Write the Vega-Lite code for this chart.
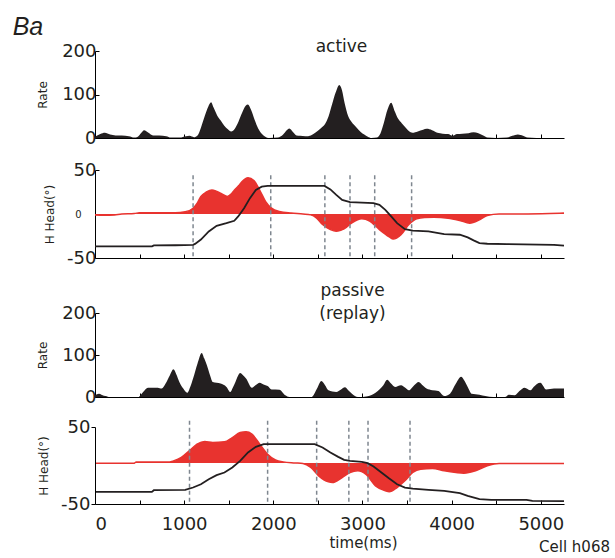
{
  "$schema": "https://vega.github.io/schema/vega-lite/v6.json",
  "padding": {"left": 12, "top": 15, "right": 5, "bottom": 3},
  "background": "white",
  "title": {"text": "Ba", "anchor": "start", "frame": "bounds", "font": "Liberation Sans", "fontSize": 25, "fontStyle": "italic", "fontWeight": "normal", "color": "#231f20", "dx": -24, "offset": -2},
  "config": {
    "view": {"stroke": null},
    "font": "DejaVu Sans",
    "axis": {"grid": false, "domainColor": "#000", "tickColor": "#000", "domainWidth": 1, "tickWidth": 1, "tickSize": -4, "labelFont": "DejaVu Sans", "labelFontSize": 18, "labelColor": "#231f20", "titleFont": "DejaVu Sans", "titleFontWeight": "normal", "titleFontSize": 12, "titleColor": "#231f20", "labelPadding": 3},
    "title": {"font": "DejaVu Sans", "fontWeight": "normal", "fontSize": 17, "color": "#231f20"}
  },
  "datasets": {
    "aRate": [{"t":0,"r":3},{"t":60,"r":9},{"t":110,"r":12},{"t":170,"r":8},{"t":230,"r":6},{"t":300,"r":6},{"t":380,"r":4},{"t":440,"r":1},{"t":480,"r":3},{"t":520,"r":12},{"t":550,"r":18},{"t":600,"r":12},{"t":650,"r":6},{"t":720,"r":6},{"t":800,"r":4},{"t":850,"r":1},{"t":950,"r":1},{"t":1020,"r":4},{"t":1060,"r":5},{"t":1110,"r":2},{"t":1150,"r":6},{"t":1190,"r":25},{"t":1230,"r":50},{"t":1270,"r":72},{"t":1302,"r":82},{"t":1330,"r":70},{"t":1370,"r":52},{"t":1410,"r":40},{"t":1450,"r":28},{"t":1490,"r":20},{"t":1527,"r":15},{"t":1570,"r":22},{"t":1610,"r":38},{"t":1650,"r":58},{"t":1690,"r":74},{"t":1715,"r":77},{"t":1750,"r":65},{"t":1790,"r":42},{"t":1830,"r":22},{"t":1870,"r":10},{"t":1910,"r":3},{"t":1950,"r":0},{"t":2050,"r":1},{"t":2110,"r":8},{"t":2150,"r":18},{"t":2180,"r":22},{"t":2220,"r":14},{"t":2260,"r":6},{"t":2300,"r":5},{"t":2360,"r":4},{"t":2420,"r":6},{"t":2470,"r":12},{"t":2530,"r":22},{"t":2580,"r":32},{"t":2620,"r":50},{"t":2660,"r":78},{"t":2700,"r":105},{"t":2740,"r":122},{"t":2770,"r":110},{"t":2800,"r":80},{"t":2840,"r":50},{"t":2880,"r":36},{"t":2930,"r":25},{"t":2980,"r":14},{"t":3020,"r":8},{"t":3060,"r":3},{"t":3100,"r":0},{"t":3160,"r":1},{"t":3200,"r":10},{"t":3240,"r":35},{"t":3280,"r":65},{"t":3322,"r":81},{"t":3360,"r":62},{"t":3400,"r":44},{"t":3440,"r":34},{"t":3480,"r":25},{"t":3520,"r":16},{"t":3560,"r":12},{"t":3620,"r":15},{"t":3680,"r":19},{"t":3720,"r":21},{"t":3780,"r":18},{"t":3840,"r":12},{"t":3900,"r":10},{"t":3960,"r":9},{"t":4010,"r":5},{"t":4060,"r":9},{"t":4120,"r":10},{"t":4190,"r":11},{"t":4246,"r":13},{"t":4300,"r":11},{"t":4360,"r":5},{"t":4400,"r":1},{"t":4500,"r":0},{"t":4620,"r":1},{"t":4680,"r":5},{"t":4743,"r":8},{"t":4800,"r":5},{"t":4850,"r":1},{"t":4950,"r":0},{"t":5100,"r":0},{"t":5260,"r":0}],
    "aVel": [{"t":0,"v":-1},{"t":100,"v":-1.5},{"t":220,"v":-1},{"t":300,"v":0},{"t":440,"v":0.5},{"t":500,"v":1.5},{"t":700,"v":1.5},{"t":900,"v":1.5},{"t":1012,"v":2.5},{"t":1100,"v":6.6},{"t":1150,"v":13},{"t":1188,"v":20},{"t":1250,"v":25},{"t":1311,"v":27.4},{"t":1360,"v":26},{"t":1408,"v":23.6},{"t":1483,"v":20},{"t":1530,"v":23},{"t":1562,"v":27},{"t":1610,"v":32},{"t":1650,"v":37},{"t":1716,"v":41.3},{"t":1782,"v":38},{"t":1848,"v":27},{"t":1914,"v":14},{"t":1980,"v":6.6},{"t":2068,"v":2.8},{"t":2200,"v":1},{"t":2332,"v":0},{"t":2420,"v":-1},{"t":2486,"v":-4.7},{"t":2552,"v":-12},{"t":2640,"v":-17.7},{"t":2706,"v":-19.6},{"t":2794,"v":-17},{"t":2882,"v":-10},{"t":2992,"v":-5.5},{"t":3080,"v":-8},{"t":3190,"v":-17.7},{"t":3300,"v":-26},{"t":3344,"v":-28.5},{"t":3432,"v":-23.5},{"t":3520,"v":-12},{"t":3608,"v":-5.5},{"t":3696,"v":-4},{"t":3800,"v":-3.8},{"t":3960,"v":-4.7},{"t":4092,"v":-7.4},{"t":4202,"v":-10.4},{"t":4312,"v":-6.6},{"t":4400,"v":-1.7},{"t":4532,"v":0},{"t":4800,"v":0},{"t":5100,"v":0.5},{"t":5260,"v":1}],
    "aPos": [{"t":0,"v":-36.8},{"t":640,"v":-36.8},{"t":660,"v":-35.7},{"t":900,"v":-35.5},{"t":1100,"v":-35},{"t":1122,"v":-34},{"t":1188,"v":-29},{"t":1276,"v":-19.8},{"t":1364,"v":-13.4},{"t":1474,"v":-10.4},{"t":1562,"v":-7.7},{"t":1606,"v":-2.8},{"t":1672,"v":6.6},{"t":1738,"v":18},{"t":1804,"v":27.4},{"t":1870,"v":31},{"t":1936,"v":31.9},{"t":2574,"v":31.9},{"t":2640,"v":28},{"t":2706,"v":21.7},{"t":2772,"v":16},{"t":2860,"v":13.4},{"t":3124,"v":12.3},{"t":3190,"v":10.4},{"t":3256,"v":4.7},{"t":3322,"v":-2.8},{"t":3388,"v":-10.4},{"t":3476,"v":-17.2},{"t":3564,"v":-19},{"t":3740,"v":-19.8},{"t":3916,"v":-22.8},{"t":4092,"v":-23.6},{"t":4180,"v":-26.6},{"t":4246,"v":-30},{"t":4312,"v":-33},{"t":4400,"v":-33.8},{"t":4620,"v":-34.2},{"t":5148,"v":-35},{"t":5260,"v":-36}],
    "aEv": [{"t":1100},{"t":1971},{"t":2578},{"t":2860},{"t":3137},{"t":3551}],
    "pRate": [{"t":0,"r":4},{"t":44,"r":8},{"t":100,"r":3},{"t":132,"r":2},{"t":154,"r":0},{"t":484,"r":0},{"t":540,"r":12},{"t":594,"r":22},{"t":704,"r":22},{"t":748,"r":20},{"t":792,"r":32},{"t":840,"r":52},{"t":880,"r":66},{"t":910,"r":55},{"t":946,"r":36},{"t":990,"r":20},{"t":1034,"r":10},{"t":1070,"r":25},{"t":1100,"r":44},{"t":1150,"r":80},{"t":1197,"r":105},{"t":1225,"r":92},{"t":1254,"r":76},{"t":1290,"r":52},{"t":1320,"r":36},{"t":1408,"r":32},{"t":1474,"r":24},{"t":1518,"r":12},{"t":1545,"r":22},{"t":1575,"r":36},{"t":1628,"r":57},{"t":1660,"r":52},{"t":1694,"r":44},{"t":1760,"r":22},{"t":1800,"r":28},{"t":1848,"r":34},{"t":1890,"r":30},{"t":1936,"r":26},{"t":1980,"r":18},{"t":2068,"r":17.5},{"t":2134,"r":4},{"t":2178,"r":0},{"t":2420,"r":0},{"t":2442,"r":2},{"t":2490,"r":20},{"t":2539,"r":38},{"t":2580,"r":28},{"t":2618,"r":16},{"t":2706,"r":12},{"t":2760,"r":18},{"t":2803,"r":23},{"t":2840,"r":16},{"t":2882,"r":8},{"t":2948,"r":0},{"t":3058,"r":2},{"t":3146,"r":10},{"t":3234,"r":28},{"t":3278,"r":41},{"t":3320,"r":32},{"t":3366,"r":24},{"t":3432,"r":28},{"t":3480,"r":22},{"t":3520,"r":16},{"t":3580,"r":28},{"t":3630,"r":36},{"t":3680,"r":27},{"t":3718,"r":20},{"t":3784,"r":16},{"t":3850,"r":14},{"t":3916,"r":2.4},{"t":3982,"r":8},{"t":4048,"r":32},{"t":4105,"r":48},{"t":4140,"r":40},{"t":4180,"r":24},{"t":4224,"r":8},{"t":4312,"r":5.6},{"t":4378,"r":2.4},{"t":4466,"r":0},{"t":4598,"r":0},{"t":4642,"r":5.6},{"t":4708,"r":4},{"t":4760,"r":14},{"t":4818,"r":22},{"t":4884,"r":16},{"t":4919,"r":24},{"t":4994,"r":34},{"t":5060,"r":18},{"t":5148,"r":20},{"t":5260,"r":20}],
    "pVel": [{"t":0,"v":3},{"t":440,"v":3},{"t":462,"v":4.7},{"t":836,"v":4.7},{"t":880,"v":6},{"t":968,"v":10.4},{"t":1056,"v":19},{"t":1144,"v":27.7},{"t":1232,"v":31.2},{"t":1320,"v":29.9},{"t":1452,"v":30.7},{"t":1540,"v":36.3},{"t":1628,"v":42.8},{"t":1694,"v":43.7},{"t":1760,"v":40.7},{"t":1848,"v":27.7},{"t":1936,"v":14.7},{"t":2024,"v":7.3},{"t":2112,"v":4.7},{"t":2244,"v":3.4},{"t":2332,"v":2.6},{"t":2420,"v":-2.6},{"t":2508,"v":-13.4},{"t":2618,"v":-21.2},{"t":2662,"v":-22.1},{"t":2772,"v":-15.6},{"t":2860,"v":-9.1},{"t":2948,"v":-6.9},{"t":3036,"v":-11.3},{"t":3146,"v":-26.4},{"t":3256,"v":-32.9},{"t":3300,"v":-34.2},{"t":3388,"v":-28.6},{"t":3476,"v":-19.9},{"t":3564,"v":-9.1},{"t":3652,"v":-4.8},{"t":3784,"v":-3.9},{"t":3916,"v":-6.9},{"t":4048,"v":-9.1},{"t":4136,"v":-10},{"t":4268,"v":-6.9},{"t":4400,"v":-0.4},{"t":4532,"v":2.6},{"t":5260,"v":2.6}],
    "pPos": [{"t":0,"v":-34.2},{"t":638,"v":-34.2},{"t":660,"v":-32.1},{"t":1012,"v":-31.6},{"t":1100,"v":-28.6},{"t":1188,"v":-24.3},{"t":1276,"v":-17.8},{"t":1364,"v":-12.6},{"t":1452,"v":-9.1},{"t":1540,"v":-2.6},{"t":1628,"v":6},{"t":1716,"v":16.9},{"t":1804,"v":24.2},{"t":1892,"v":27.7},{"t":2464,"v":27.7},{"t":2552,"v":23.4},{"t":2640,"v":16.9},{"t":2728,"v":11.2},{"t":2794,"v":7.3},{"t":2860,"v":6},{"t":2992,"v":4.7},{"t":3058,"v":3},{"t":3124,"v":-1.3},{"t":3212,"v":-9.1},{"t":3300,"v":-16.9},{"t":3388,"v":-24.3},{"t":3476,"v":-28.6},{"t":3564,"v":-29.9},{"t":3740,"v":-31.6},{"t":3916,"v":-32.9},{"t":4092,"v":-35.9},{"t":4180,"v":-39.4},{"t":4312,"v":-43.7},{"t":4444,"v":-44.6},{"t":4840,"v":-44.6},{"t":4906,"v":-45.9},{"t":5260,"v":-46.3}],
    "pEv": [{"t":1060},{"t":1936},{"t":2486},{"t":2847},{"t":3062},{"t":3533}]
  },
  "spacing": 15,
  "vconcat": [
    {
      "bounds": "flush",
      "spacing": 32,
      "vconcat": [
        {
          "width": 469, "height": 87,
          "title": {"text": "active", "frame": "group", "anchor": "middle", "dx": 12, "offset": -14},
          "data": {"name": "aRate"},
          "mark": {"type": "area", "color": "#231f20", "interpolate": "monotone"},
          "encoding": {
            "x": {"field": "t", "type": "quantitative", "scale": {"domain": [0, 5260], "nice": false}, "axis": {"values": [500,1000,1500,2000,2500,3000,3500,4000,4500,5000], "labels": false, "title": null}},
            "y": {"field": "r", "type": "quantitative", "scale": {"domain": [0, 200], "nice": false}, "axis": {"values": [0, 100, 200], "title": "Rate", "titlePadding": 12, "labelOverlap": false}}
          }
        },
        {
          "width": 469, "height": 88,
          "layer": [
            {
              "data": {"name": "aVel"},
              "mark": {"type": "area", "color": "#e8332f", "interpolate": "monotone"},
              "encoding": {
                "x": {"field": "t", "type": "quantitative", "scale": {"domain": [0, 5260], "nice": false}, "axis": {"values": [500,1000,1500,2000,2500,3000,3500,4000,4500,5000], "labels": false, "title": null}},
                "y": {"field": "v", "type": "quantitative", "scale": {"domain": [-50, 50], "nice": false}, "axis": {"values": [-50, 0, 50], "labelOverlap": false, "labelExpr": "datum.value < 0 ? '-' + abs(datum.value) : datum.label", "title": "H Head(°)", "titlePadding": 10, "labelFontSize": {"condition": {"test": "datum.value === 0", "value": 10}, "value": 18}, "labelPadding": {"condition": {"test": "datum.value === 0", "value": 18}, "value": 3}}},
                "y2": {"datum": 0}
              }
            },
            {
              "data": {"name": "aVel"},
              "mark": {"type": "line", "color": "#e8332f", "strokeWidth": 1.5, "interpolate": "monotone"},
              "encoding": {"x": {"field": "t", "type": "quantitative"}, "y": {"field": "v", "type": "quantitative"}}
            },
            {
              "data": {"name": "aEv"},
              "mark": {"type": "rule", "color": "#7f8790", "strokeDash": [4, 3], "strokeWidth": 1.5},
              "encoding": {"x": {"field": "t", "type": "quantitative"}, "y": {"datum": 44}, "y2": {"datum": -50}}
            },
            {
              "data": {"name": "aPos"},
              "mark": {"type": "line", "color": "#231f20", "strokeWidth": 1.8},
              "encoding": {"x": {"field": "t", "type": "quantitative"}, "y": {"field": "v", "type": "quantitative"}}
            }
          ]
        }
      ]
    },
    {
      "bounds": "flush",
      "spacing": 30,
      "vconcat": [
        {
          "width": 469, "height": 84,
          "title": {"text": ["passive", "(replay)"], "frame": "group", "anchor": "middle", "dx": 23, "offset": -19, "lineHeight": 23},
          "data": {"name": "pRate"},
          "mark": {"type": "area", "color": "#231f20", "interpolate": "monotone"},
          "encoding": {
            "x": {"field": "t", "type": "quantitative", "scale": {"domain": [0, 5260], "nice": false}, "axis": {"values": [500,1000,1500,2000,2500,3000,3500,4000,4500,5000], "labels": false, "title": null}},
            "y": {"field": "r", "type": "quantitative", "scale": {"domain": [0, 200], "nice": false}, "axis": {"values": [0, 100, 200], "title": "Rate", "titlePadding": 12, "labelOverlap": false}}
          }
        },
        {
          "width": 469, "height": 77,
          "title": {"text": "Cell h068", "orient": "bottom", "frame": "group", "anchor": "end", "dx": 46, "offset": -10, "fontSize": 15},
          "layer": [
            {
              "data": {"name": "pVel"},
              "mark": {"type": "area", "color": "#e8332f", "interpolate": "monotone"},
              "encoding": {
                "x": {"field": "t", "type": "quantitative", "scale": {"domain": [0, 5260], "nice": false}, "axis": {"values": [0,500,1000,1500,2000,2500,3000,3500,4000,4500,5000], "format": "d", "labelExpr": "datum.value % 1000 === 0 ? datum.label : ''", "title": "time(ms)", "titleFontSize": 15, "titleX": 268, "titlePadding": 2, "labelPadding": 15, "labelOverlap": false}},
                "y": {"field": "v", "type": "quantitative", "scale": {"domain": [-50, 50], "nice": false}, "axis": {"values": [-50, 0, 50], "zindex": 1, "tickSize": 4, "labelPadding": 1, "labelOverlap": false, "labelBound": false, "labelExpr": "datum.value < 0 ? '-' + abs(datum.value) : datum.label", "title": "H Head(°)", "titlePadding": 10}},
                "y2": {"datum": 3.4}
              }
            },
            {
              "data": {"name": "pVel"},
              "mark": {"type": "line", "color": "#e8332f", "strokeWidth": 1.5, "interpolate": "monotone"},
              "encoding": {"x": {"field": "t", "type": "quantitative"}, "y": {"field": "v", "type": "quantitative"}}
            },
            {
              "data": {"name": "pEv"},
              "mark": {"type": "rule", "color": "#7f8790", "strokeDash": [4, 3], "strokeWidth": 1.5},
              "encoding": {"x": {"field": "t", "type": "quantitative"}, "y": {"datum": 58}, "y2": {"datum": -50}}
            },
            {
              "data": {"name": "pPos"},
              "mark": {"type": "line", "color": "#231f20", "strokeWidth": 1.8},
              "encoding": {"x": {"field": "t", "type": "quantitative"}, "y": {"field": "v", "type": "quantitative"}}
            }
          ]
        }
      ]
    }
  ]
}
